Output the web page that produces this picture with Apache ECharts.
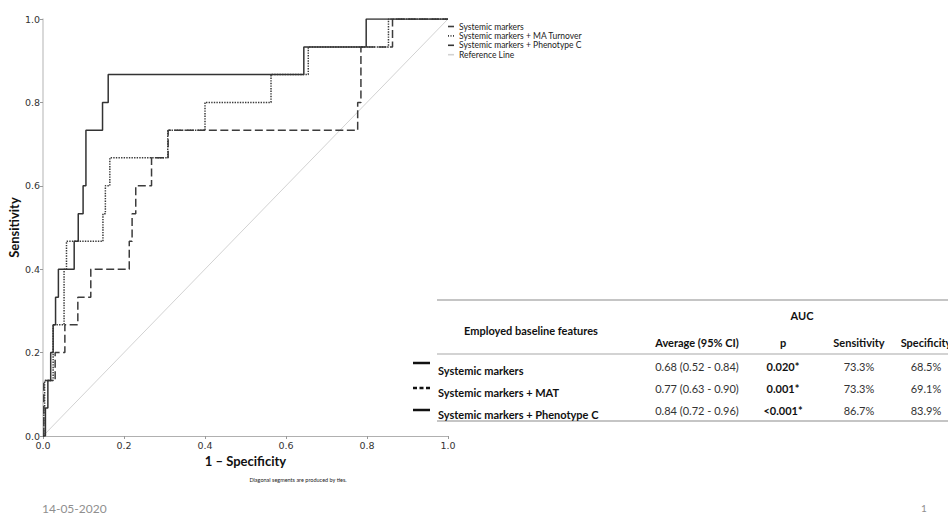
<!DOCTYPE html>
<html>
<head>
<meta charset="utf-8">
<script src="https://cdn.jsdelivr.net/npm/echarts@6/dist/echarts.min.js"></script>
<style>
  html, body { margin: 0; padding: 0; background: #fff; }
  #chart { width: 948px; height: 513px; }
</style>
</head>
<body>
<div id="chart"></div>
<script>
// ROC operating points as [1 - specificity, sensitivity]
const tickLabels = ['0.0', '0.2', '0.4', '0.6', '0.8', '1.0'];
const seriesNames = [
  'Systemic markers',
  'Systemic markers + MA Turnover',
  'Systemic markers + Phenotype C',
  'Reference Line'
];
const rocSystemic = [
  [0, 0], [0.002, 0.133], [0.030, 0.2], [0.054, 0.267], [0.086, 0.333],
  [0.118, 0.4], [0.213, 0.467], [0.220, 0.533], [0.229, 0.6], [0.268, 0.667],
  [0.309, 0.733], [0.777, 0.8], [0.785, 0.933], [0.863, 1.0], [1, 1]
];
const rocMAT = [
  [0, 0], [0.002, 0.067], [0.004, 0.133], [0.025, 0.267], [0.052, 0.4],
  [0.058, 0.467], [0.148, 0.533], [0.154, 0.6], [0.165, 0.667], [0.308, 0.733],
  [0.400, 0.8], [0.563, 0.867], [0.655, 0.933], [0.853, 1.0], [1, 1]
];
const rocPhenoC = [
  [0, 0], [0.006, 0.067], [0.012, 0.133], [0.019, 0.2], [0.025, 0.267],
  [0.031, 0.333], [0.038, 0.4], [0.077, 0.467], [0.087, 0.533], [0.099, 0.6],
  [0.106, 0.733], [0.147, 0.8], [0.161, 0.867], [0.644, 0.933], [0.798, 1.0], [1, 1]
];
const referenceLine = [[0, 0], [1, 1]];

// AUC summary table
const tableTitle = 'AUC';
const tableFeatureHeader = 'Employed baseline features';
const tableHeaders = ['Average (95% CI)', 'p', 'Sensitivity', 'Specificity'];
const tableFeatures = ['Systemic markers', 'Systemic markers + MAT', 'Systemic markers + Phenotype C'];
const tableAUC = ['0.68 (0.52 - 0.84)', '0.77 (0.63 - 0.90)', '0.84 (0.72 - 0.96)'];
const tableP = ['0.020*', '0.001*', '<0.001*'];
const tableSens = ['73.3%', '73.3%', '86.7%'];
const tableSpec = ['68.5%', '69.1%', '83.9%'];

const footnote = 'Diagonal segments are produced by ties.';
const dateText = '14-05-2020';
const pageText = '1';

const chart = echarts.init(document.getElementById('chart'), null, { renderer: 'svg' });

function txt(text, x, y, font, fill, align, vAlign) {
  return {
    type: 'text', silent: true,
    style: {
      text, x, y, font, fill,
      align: align || 'left', textAlign: align || 'left',
      verticalAlign: vAlign || 'middle', textVerticalAlign: vAlign || 'middle'
    }
  };
}
function rule(x1, y1, x2, y2, stroke, w, dash) {
  return {
    type: 'line', silent: true,
    shape: { x1, y1, x2, y2 },
    style: { stroke, lineWidth: w, lineDash: dash || null }
  };
}

const tableFont = '11px Lato';
const tableBold = 'bold 11px Lato';
const colX = [697, 783, 859, 926];
const valueY = [366, 388, 410];
const labelY = [370, 392, 414];
const sampleY = [363, 388, 410];
const sampleDash = [null, [4, 2.5], null];

const graphics = [
  rule(437, 300, 948, 300, '#8c8c8c', 1.2),
  rule(437, 354, 948, 354, '#a8a8a8', 1.2),
  rule(437, 421, 948, 421, '#8c8c8c', 1.2),
  txt(tableTitle, 802, 315, tableBold, '#111', 'center'),
  txt(tableFeatureHeader, 531, 330, tableBold, '#111', 'center')
];
tableHeaders.forEach((h, i) => graphics.push(txt(h, colX[i], 342, tableBold, '#111', 'center')));
tableFeatures.forEach((f, r) => {
  graphics.push(rule(413, sampleY[r], 430, sampleY[r], '#111', 2.5, sampleDash[r]));
  graphics.push(txt(f, 438, labelY[r], tableBold, '#111', 'left'));
  graphics.push(txt(tableAUC[r], colX[0], valueY[r], tableFont, '#333', 'center'));
  graphics.push(txt(tableP[r], colX[1], valueY[r], tableBold, '#111', 'center'));
  graphics.push(txt(tableSens[r], colX[2], valueY[r], tableFont, '#333', 'center'));
  graphics.push(txt(tableSpec[r], colX[3], valueY[r], tableFont, '#333', 'center'));
});
graphics.push(txt(footnote, 298, 480, '5.5px Lato', '#222', 'center'));
graphics.push(txt(dateText, 42, 508, '12px Lato', '#8f8f8f', 'left'));
graphics.push(txt(pageText, 921, 508, '10px Lato', '#8f8f8f', 'left'));

const axisLabelStyle = {
  fontFamily: 'DejaVu Sans', fontSize: 9.5, color: '#333',
  formatter: (v) => tickLabels[Math.round(v / 0.2)]
};
const axisNameStyle = { fontFamily: 'Lato', fontWeight: 'bold', fontSize: 13, color: '#111' };

// Legend keys: a dash, a row of dots, a solid bar and a thin grey bar
const legendIcons = [
  'path://M0,0h5v2h-5z',
  'path://M0,0h1v1h-1zM2.5,0h1v1h-1zM5,0h1v1h-1z',
  'path://M0,0h7v2h-7z',
  'path://M0,0h7v1h-7z'
];

function rocSeries(name, data, dash, width, color) {
  return {
    type: 'line', name, data, step: 'end',
    symbol: 'none', showSymbol: false, animation: false,
    lineStyle: { color, width, type: dash },
    itemStyle: { color },
    emphasis: { disabled: true }
  };
}

chart.setOption({
  animation: false,
  backgroundColor: '#fff',
  grid: { left: 43, right: 500, top: 19, bottom: 77, containLabel: false },
  legend: {
    orient: 'vertical', left: 448, top: 22, padding: 0,
    itemWidth: 6, itemHeight: 1.6, itemGap: 0.4,
    symbolKeepAspect: false,
    textStyle: { fontFamily: 'Lato', fontSize: 8.5, color: '#222', lineHeight: 8 },
    data: seriesNames.map((n, i) => ({ name: n, icon: legendIcons[i] })),
    selectedMode: false
  },
  xAxis: {
    type: 'value', min: 0, max: 1, interval: 0.2,
    axisLine: { show: true, onZero: false, lineStyle: { color: '#b0b0b0', width: 1.2 } },
    axisTick: { show: true, length: 3, lineStyle: { color: '#999' } },
    axisLabel: Object.assign({ margin: 4 }, axisLabelStyle),
    splitLine: { show: false },
    name: '1 \u2013 Specificity', nameLocation: 'middle', nameGap: 17,
    nameTextStyle: axisNameStyle
  },
  yAxis: {
    type: 'value', min: 0, max: 1, interval: 0.2,
    axisLine: { show: true, onZero: false, lineStyle: { color: '#cccccc', width: 1.5 } },
    axisTick: { show: true, length: 3, lineStyle: { color: '#999' } },
    axisLabel: Object.assign({ margin: 3 }, axisLabelStyle),
    splitLine: { show: false },
    name: 'Sensitivity', nameLocation: 'middle', nameGap: 19,
    nameTextStyle: axisNameStyle
  },
  series: [
    {
      type: 'line', name: seriesNames[3], data: referenceLine,
      symbol: 'none', showSymbol: false,
      lineStyle: { color: '#d2d2d2', width: 1 },
      itemStyle: { color: '#d2d2d2' },
      emphasis: { disabled: true }
    },
    rocSeries(seriesNames[0], rocSystemic, [8, 3.5], 1.5, '#3c3c3c'),
    rocSeries(seriesNames[1], rocMAT, [1.4, 1.2], 1.5, '#3a3a3a'),
    rocSeries(seriesNames[2], rocPhenoC, 'solid', 1.5, '#333')
  ],
  graphic: graphics
});
</script>
</body>
</html>
